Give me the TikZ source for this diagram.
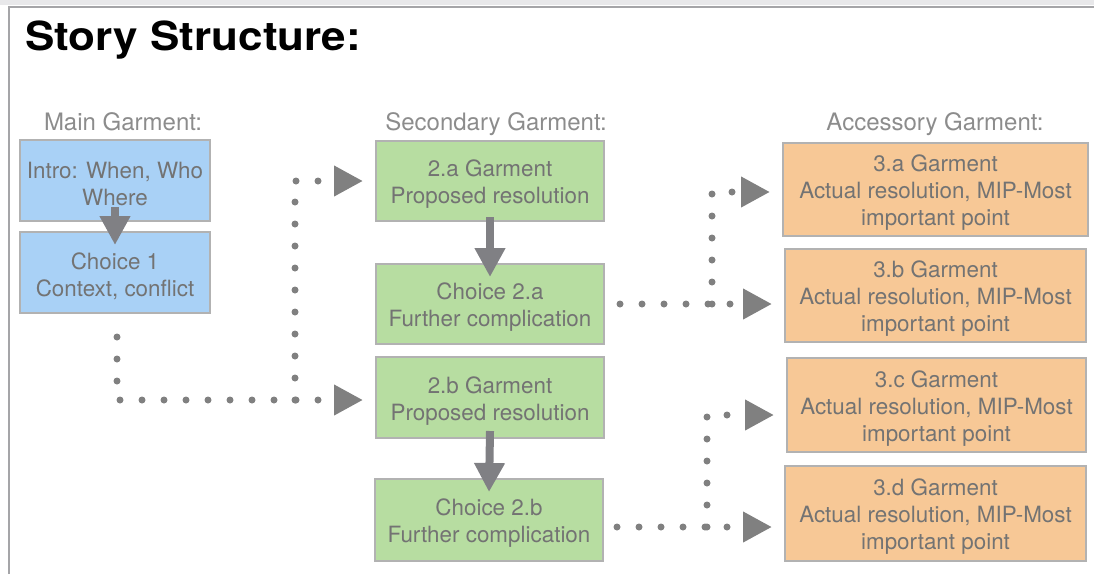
\documentclass[tikz,border=0pt]{standalone}
\usepackage{fontspec}
\usepackage{graphicx}
\setmainfont{TeX Gyre Heros}
\usetikzlibrary{arrows.meta,calc}
\definecolor{bluefill}{RGB}{169,209,246}
\definecolor{greenfill}{RGB}{183,221,161}
\definecolor{orangefill}{RGB}{247,200,150}
\definecolor{boxline}{RGB}{178,178,178}
\definecolor{boxtext}{RGB}{115,115,115}
\definecolor{headtext}{RGB}{140,140,140}
\definecolor{arrowgray}{RGB}{128,128,132}
\definecolor{dotgray}{RGB}{128,128,128}
\definecolor{framegray}{RGB}{165,165,168}
\definecolor{bandgray}{RGB}{232,232,234}
\tikzset{
  box/.style={rectangle, draw=boxline, line width=2pt, inner sep=0pt},
  bluebox/.style={box, fill=bluefill},
  greenbox/.style={box, fill=greenfill},
  orangebox/.style={box, fill=orangefill},
  boxlabel/.style={inner sep=0pt, align=center, text=boxtext,
    font=\fontsize{22.4}{27}\selectfont, yshift=-3.5pt},
  heading/.style={text=headtext, font=\fontsize{24}{28}\selectfont, anchor=base, inner sep=0pt},
  fatarrow/.style={draw=arrowgray, line width=8pt, -{Triangle[length=29pt,width=29pt,fill=arrowgray]}},
  dotline/.style={draw=dotgray, line width=7pt, line cap=round, dash pattern=on 0pt off 22pt,
    -{Triangle[length=29pt,width=29pt,fill=dotgray,line cap=butt]}, shorten >=12pt}
}
\begin{document}
\begin{tikzpicture}[x=1pt,y=-1pt]
\useasboundingbox (0,0) rectangle (1094,574);
% frame
\fill[bandgray] (0,0) rectangle (1094,5);
\draw[framegray, line width=2pt] (9,574) -- (9,7) -- (1094,7);
% title
\node[anchor=base west, inner sep=0pt, font=\fontsize{40}{44}\bfseries] (title) at (25,50)
  {\scalebox{1.1}[1]{Story Structure:}};
% headings
\node[heading] (h1) at (123,130) {Main Garment:};
\node[heading] (h2) at (496,130) {Secondary Garment:};
\node[heading] (h3) at (935,130) {Accessory Garment:};
% blue boxes
\node[bluebox, minimum width=190pt, minimum height=81pt] (intro) at (115,180.5) {};
\node[bluebox, minimum width=190pt, minimum height=81pt] (c1) at (115,272.5) {};
% green boxes
\node[greenbox, minimum width=228pt, minimum height=80pt] (g2a) at (490,181) {};
\node[greenbox, minimum width=228pt, minimum height=80pt] (c2a) at (490,304) {};
\node[greenbox, minimum width=228pt, minimum height=81pt] (g2b) at (490,397.5) {};
\node[greenbox, minimum width=228pt, minimum height=82pt] (c2b) at (489,520) {};
% orange boxes
\node[orangebox, minimum width=305pt, minimum height=93pt] (g3a) at (935.5,189.5) {};
\node[orangebox, minimum width=301pt, minimum height=93pt] (g3b) at (935.5,295.5) {};
\node[orangebox, minimum width=299pt, minimum height=94pt] (g3c) at (936.5,405) {};
\node[orangebox, minimum width=301pt, minimum height=95pt] (g3d) at (935.5,513.5) {};
% box texts
\node[boxlabel] (intro-t) at (intro.center) {Intro: When, Who\\Where};
\node[boxlabel] (c1-t) at (c1.center) {Choice 1\\Context, conflict};
\node[boxlabel] (g2a-t) at (g2a.center) {2.a Garment\\Proposed resolution};
\node[boxlabel] (c2a-t) at (c2a.center) {Choice 2.a\\Further complication};
\node[boxlabel] (g2b-t) at (g2b.center) {2.b Garment\\Proposed resolution};
\node[boxlabel] (c2b-t) at (c2b.center) {Choice 2.b\\Further complication};
\node[boxlabel] (g3a-t) at (g3a.center) {3.a Garment\\Actual resolution, MIP-Most\\important point};
\node[boxlabel] (g3b-t) at (g3b.center) {3.b Garment\\Actual resolution, MIP-Most\\important point};
\node[boxlabel] (g3c-t) at (g3c.center) {3.c Garment\\Actual resolution, MIP-Most\\important point};
\node[boxlabel] (g3d-t) at (g3d.center) {3.d Garment\\Actual resolution, MIP-Most\\important point};
% solid arrows
\draw[fatarrow] ([yshift=15pt]intro.south) -- ([yshift=-14pt]c1.north);
\draw[fatarrow] ([yshift=5pt]g2a.south) -- ([yshift=-14pt]c2a.north);
\draw[fatarrow] ([yshift=8pt]g2b.south) -- ([yshift=-14pt]c2b.north);
% dotted connectors
\coordinate (s1) at ([xshift=2pt,yshift=-23pt]c1.south);
\coordinate (j1) at (295,400);
\coordinate (e1) at (g2b.west |- j1);
\draw[dotline] (s1) |- (e1);
\draw[dotline] (j1) |- (g2a.west);
\coordinate (s2) at ([xshift=15pt]c2a.east);
\coordinate (j2) at (712,304);
\draw[dotline] (s2) -- (s2 -| g3b.west);
\coordinate (e2) at ([yshift=-2.5pt]g3a.west);
\draw[dotline] (j2) |- (e2);
\coordinate (s3) at ([xshift=13pt,yshift=-7pt]c2b.east);
\coordinate (j3) at (707,527);
\draw[dotline] (s3) -- (s3 -| g3d.west);
\coordinate (e3) at ([yshift=-10pt]g3c.west);
\draw[dotline] (j3) |- (e3);
\end{tikzpicture}
\end{document}
